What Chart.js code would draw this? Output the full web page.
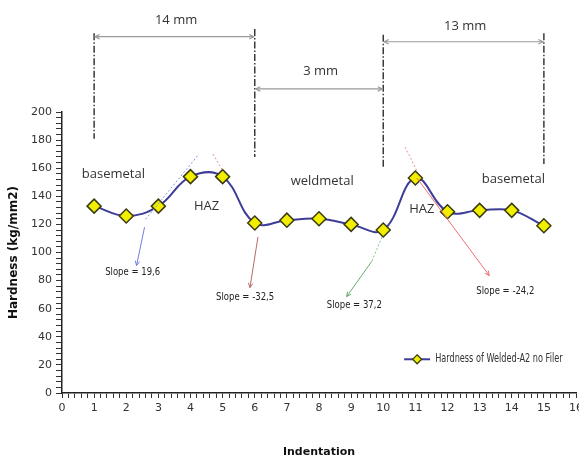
<!DOCTYPE html>
<html>
<head>
<meta charset="utf-8">
<script src="https://cdn.jsdelivr.net/npm/chart.js@4/dist/chart.umd.min.js"></script>
<style>
  html, body { margin: 0; padding: 0; background: #fff; overflow: hidden; }
  #wrap { width: 579px; height: 461px; }
  canvas { display: block; }
</style>
</head>
<body>
<div id="wrap"><canvas id="hardnessChart" width="579" height="461"></canvas></div>
<script>
// data
const indentation = [1, 2, 3, 4, 5, 6, 7, 8, 9, 10, 11, 12, 13, 14, 15];
const hardness = [133, 126, 133, 154, 154, 121, 123, 124, 120, 116, 153, 129, 130, 130, 119];
const seriesName = "Hardness of Welded-A2 no Filer";

// zone spans above the plot (indentation from/to, level in hardness units)
const spanLabels = ["14 mm", "3 mm", "13 mm"];
const spanFrom = [1, 6, 10];
const spanTo = [6, 10, 15];
const spanLevel = [253.6, 216.4, 250];
const spanTextLevel = [265.5, 229, 261];

// dash-dot boundary markers
const boundaryX = [1, 6, 10, 15];
const boundaryTop = [256, 259, 255, 256];
const boundaryBottom = [181, 168, 161, 163];

// region names
const zoneLabels = ["basemetal", "HAZ", "weldmetal", "HAZ", "basemetal"];
const zoneX = [1.6, 4.5, 8.1, 11.2, 14.05];
const zoneY = [156, 133, 151, 131, 152];

// slope notes
const slopeLabels = ["Slope = 19,6", "Slope = -32,5", "Slope = 37,2", "Slope = -24,2"];
const slopeX = [2.2, 5.7, 9.1, 13.8];
const slopeY = [86, 68, 62, 72];
const slopeColors = ["#6f7fe0", "#b46a6a", "#6aaa6a", "#ee6f6f"];
const arrowFrom = [[2.57, 118], [6.1, 111], [9.64, 93.6], [11.05, 153]];
const arrowTo = [[2.32, 90.7], [5.85, 75], [8.86, 68.6], [13.3, 83.6]];
const tangentFrom = [[2.6, 123.6], [4.7, 170], [9.96, 111], [10.68, 175]];
const tangentTo = [[4.26, 170], [5.04, 157], [9.64, 93.6], [11.05, 158]];
const tangentColors = ["#7f8fe8", "#e09090", "#8ac08a", "#ee8f8f"];

const narrow = "'DejaVu Sans', sans-serif";
const plain = "'Open Sans', 'Liberation Sans', sans-serif";

function arrowHead(ctx, x1, y1, x2, y2, size) {
  const a = Math.atan2(y2 - y1, x2 - x1);
  ctx.beginPath();
  ctx.moveTo(x2 - size * Math.cos(a - 0.45), y2 - size * Math.sin(a - 0.45));
  ctx.lineTo(x2, y2);
  ctx.lineTo(x2 - size * Math.cos(a + 0.45), y2 - size * Math.sin(a + 0.45));
  ctx.stroke();
}

// text squeezed sideways, the original uses a condensed face
function narrowText(ctx, text, x, y, squeeze) {
  ctx.save();
  ctx.translate(x, y);
  ctx.scale(squeeze, 1);
  ctx.fillText(text, 0, 0);
  ctx.restore();
}

// let the x axis run to the right edge like the original
const widenX = {
  id: "widenX",
  afterLayout(chart) {
    const x = chart.scales.x;
    const right = chart.width - 3;
    if (x.right >= right) return;
    x.right = right;
    x.width = right - x.left;
    chart.chartArea.right = right;
    chart.chartArea.width = right - chart.chartArea.left;
    x.configure();
  }
};

const annotations = {
  id: "annotations",
  afterDatasetsDraw(chart) {
    const { ctx, scales } = chart;
    const px = (v) => scales.x.getPixelForValue(v);
    const py = (v) => scales.y.getPixelForValue(v);
    ctx.save();

    // boundaries
    ctx.strokeStyle = "#3a3a3a";
    ctx.lineWidth = 1.5;
    ctx.setLineDash([7, 2, 1.5, 2]);
    boundaryX.forEach((b, i) => {
      ctx.beginPath();
      ctx.moveTo(px(b), py(boundaryTop[i]));
      ctx.lineTo(px(b), py(boundaryBottom[i]));
      ctx.stroke();
    });
    ctx.setLineDash([]);

    // span arrows
    ctx.strokeStyle = "#9a9a9a";
    ctx.lineWidth = 1.2;
    spanLabels.forEach((label, i) => {
      const x1 = px(spanFrom[i]) + 1, x2 = px(spanTo[i]) - 1, y = py(spanLevel[i]);
      ctx.beginPath();
      ctx.moveTo(x1, y);
      ctx.lineTo(x2, y);
      ctx.stroke();
      arrowHead(ctx, x2, y, x1, y, 5);
      arrowHead(ctx, x1, y, x2, y, 5);
    });
    ctx.fillStyle = "#333";
    ctx.font = "13px " + plain;
    ctx.textAlign = "center";
    ctx.textBaseline = "middle";
    spanLabels.forEach((label, i) => {
      ctx.fillText(label, px((spanFrom[i] + spanTo[i]) / 2 + 0.05), py(spanTextLevel[i]));
    });

    // zone names
    zoneLabels.forEach((label, i) => {
      ctx.fillText(label, px(zoneX[i]), py(zoneY[i]));
    });

    // tangents
    ctx.lineWidth = 1;
    ctx.setLineDash([2, 2]);
    tangentFrom.forEach((f, i) => {
      ctx.strokeStyle = tangentColors[i];
      ctx.beginPath();
      ctx.moveTo(px(f[0]), py(f[1]));
      ctx.lineTo(px(tangentTo[i][0]), py(tangentTo[i][1]));
      ctx.stroke();
    });
    ctx.setLineDash([]);

    // slope arrows
    arrowFrom.forEach((f, i) => {
      const x1 = px(f[0]), y1 = py(f[1]), x2 = px(arrowTo[i][0]), y2 = py(arrowTo[i][1]);
      ctx.strokeStyle = slopeColors[i];
      ctx.lineWidth = 1;
      ctx.beginPath();
      ctx.moveTo(x1, y1);
      ctx.lineTo(x2, y2);
      ctx.stroke();
      arrowHead(ctx, x1, y1, x2, y2, 5);
    });

    ctx.fillStyle = "#222";
    ctx.font = "10px " + narrow;
    slopeLabels.forEach((label, i) => {
      narrowText(ctx, label, px(slopeX[i]), py(slopeY[i]), 0.85);
    });

    // legend
    const ds = chart.data.datasets[0];
    const lx = px(10.65), ly = py(24);
    ctx.strokeStyle = ds.borderColor;
    ctx.lineWidth = 2;
    ctx.beginPath();
    ctx.moveTo(lx, ly);
    ctx.lineTo(lx + 26, ly);
    ctx.stroke();
    ctx.fillStyle = ds.pointBackgroundColor;
    ctx.strokeStyle = ds.pointBorderColor;
    ctx.lineWidth = 1.2;
    ctx.beginPath();
    ctx.moveTo(lx + 13, ly - 4.5);
    ctx.lineTo(lx + 17.5, ly);
    ctx.lineTo(lx + 13, ly + 4.5);
    ctx.lineTo(lx + 8.5, ly);
    ctx.closePath();
    ctx.fill();
    ctx.stroke();
    ctx.fillStyle = "#333";
    ctx.font = "12px " + narrow;
    ctx.textAlign = "left";
    narrowText(ctx, ds.label, lx + 31, ly, 0.68);

    ctx.restore();
  }
};

const isWhole = (v) => Math.abs(v - Math.round(v)) < 1e-6;

new Chart(document.getElementById("hardnessChart").getContext("2d"), {
  type: "line",
  data: {
    datasets: [{
      label: seriesName,
      data: indentation.map((x, i) => ({ x: x, y: hardness[i] })),
      borderColor: "#3d3d98",
      borderWidth: 2,
      tension: 0.4,
      pointStyle: "rectRot",
      pointRadius: 7,
      pointBackgroundColor: "#f2ee00",
      pointBorderColor: "#3a3a10",
      pointBorderWidth: 1.5,
      fill: false
    }]
  },
  options: {
    responsive: false,
    animation: false,
    layout: { padding: { top: 112, right: 3, left: 0, bottom: 0 } },
    plugins: {
      legend: { display: false },
      tooltip: { enabled: false }
    },
    scales: {
      x: {
        type: "linear",
        min: 0,
        max: 16,
        afterFit: (s) => { s.height = 68; s.paddingRight = 0; },
        border: { color: "#222", width: 1.5 },
        grid: { drawOnChartArea: false, tickLength: 5, color: "#333", tickColor: "#333" },
        ticks: {
          stepSize: 0.2,
          autoSkip: false,
          maxRotation: 0,
          padding: 4,
          color: "#333",
          font: { family: narrow, size: 11 },
          callback: (v) => (isWhole(v) ? String(Math.round(v)) : "")
        },
        title: {
          display: true,
          text: "Indentation",
          color: "#111",
          font: { family: narrow, size: 11, weight: "bold" },
          padding: { top: 4, bottom: 2 }
        }
      },
      y: {
        min: 0,
        max: 200,
        afterFit: (s) => { s.width = 62; },
        border: { color: "#222", width: 1.5 },
        grid: { drawOnChartArea: false, tickLength: 6, color: "#333", tickColor: "#333" },
        ticks: {
          stepSize: 4,
          autoSkip: false,
          padding: 4,
          color: "#333",
          font: { family: narrow, size: 11 },
          callback: (v) => (Math.round(v) % 20 === 0 ? String(Math.round(v)) : "")
        },
        title: {
          display: true,
          text: "Hardness (kg/mm2)",
          color: "#111",
          font: { family: narrow, size: 12, weight: "bold" },
          padding: { top: 7, bottom: 0 }
        }
      }
    }
  },
  plugins: [widenX, annotations]
});
</script>
</body>
</html>
